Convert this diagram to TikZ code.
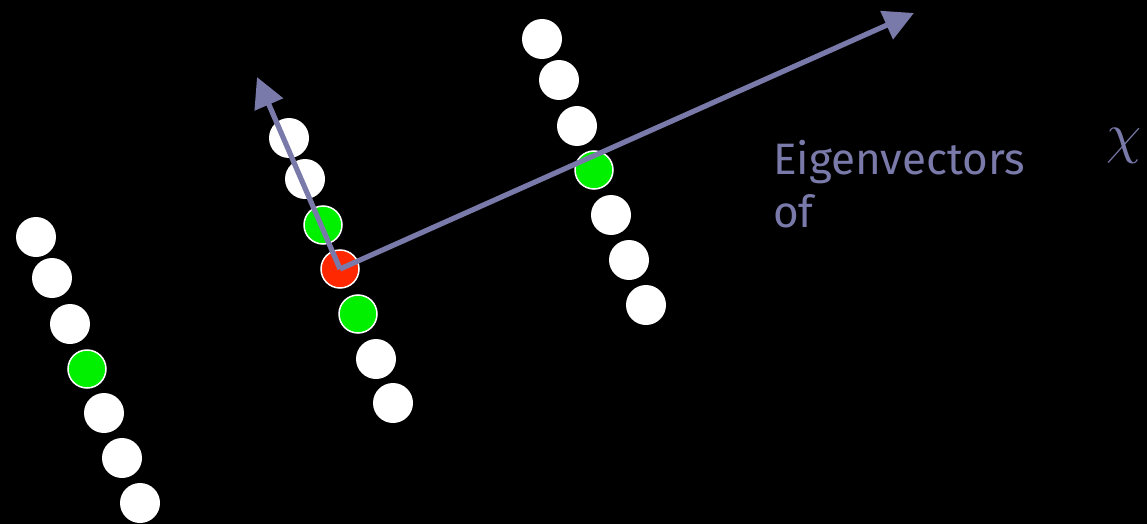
\documentclass[tikz,border=0pt]{standalone}
\usepackage{fontspec}
\setmainfont{Fira Sans}
\usetikzlibrary{arrows.meta}
\definecolor{vec}{RGB}{122,122,170}
\definecolor{rd}{RGB}{255,40,0}
\definecolor{gr}{RGB}{0,240,0}
\tikzset{
  wc/.style={circle,fill=white,inner sep=0pt,minimum size=40pt},
  gc/.style={circle,fill=gr,draw=white,line width=1.5pt,inner sep=0pt,minimum size=38pt},
  rc/.style={circle,fill=rd,draw=white,line width=1.5pt,inner sep=0pt,minimum size=38pt},
  vecarrow/.style={draw=vec,line width=5.2pt,-{Triangle[length=30pt,width=30pt]},color=vec},
  lbl/.style={text=vec,font=\fontsize{44}{53}\selectfont,align=left,inner sep=0pt}
}
\begin{document}
\begin{tikzpicture}[x=1pt,y=-1pt]
\fill[black] (0,0) rectangle (1147,524);
\useasboundingbox (0,0) rectangle (1147,524);
% left chain
\node[wc] (l1) at (36,237) {};
\node[wc] (l2) at (52,278) {};
\node[wc] (l3) at (70,324) {};
\node[gc] (l4) at (87,369) {};
\node[wc] (l5) at (104,413) {};
\node[wc] (l6) at (122,458) {};
\node[wc] (l7) at (140,503) {};
% middle chain
\node[wc] (m1) at (289,138) {};
\node[wc] (m2) at (305,179) {};
\node[gc] (m3) at (323,225) {};
\node[rc] (m4) at (340,269) {};
\node[gc] (m5) at (358,314) {};
\node[wc] (m6) at (376,359) {};
\node[wc] (m7) at (393,403) {};
% right chain
\node[wc] (r1) at (542,39) {};
\node[wc] (r2) at (559,80) {};
\node[wc] (r3) at (577,126) {};
\node[gc] (r4) at (594,170) {};
\node[wc] (r5) at (611,215) {};
\node[wc] (r6) at (629,260) {};
\node[wc] (r7) at (646,305) {};
% arrows
\coordinate (t1) at (257,77);
\coordinate (t2) at (914,13);
\draw[vecarrow] (m4.center) -- (t1);
\draw[vecarrow] (m4.center) -- (t2);
% labels
\node[lbl,anchor=north west] (txt) at (773,140) {Eigenvectors\\of};
\node[text=vec,inner sep=0pt] (chi) at (1124,146) {\scalebox{5.6}{$\chi$}};
\end{tikzpicture}
\end{document}
